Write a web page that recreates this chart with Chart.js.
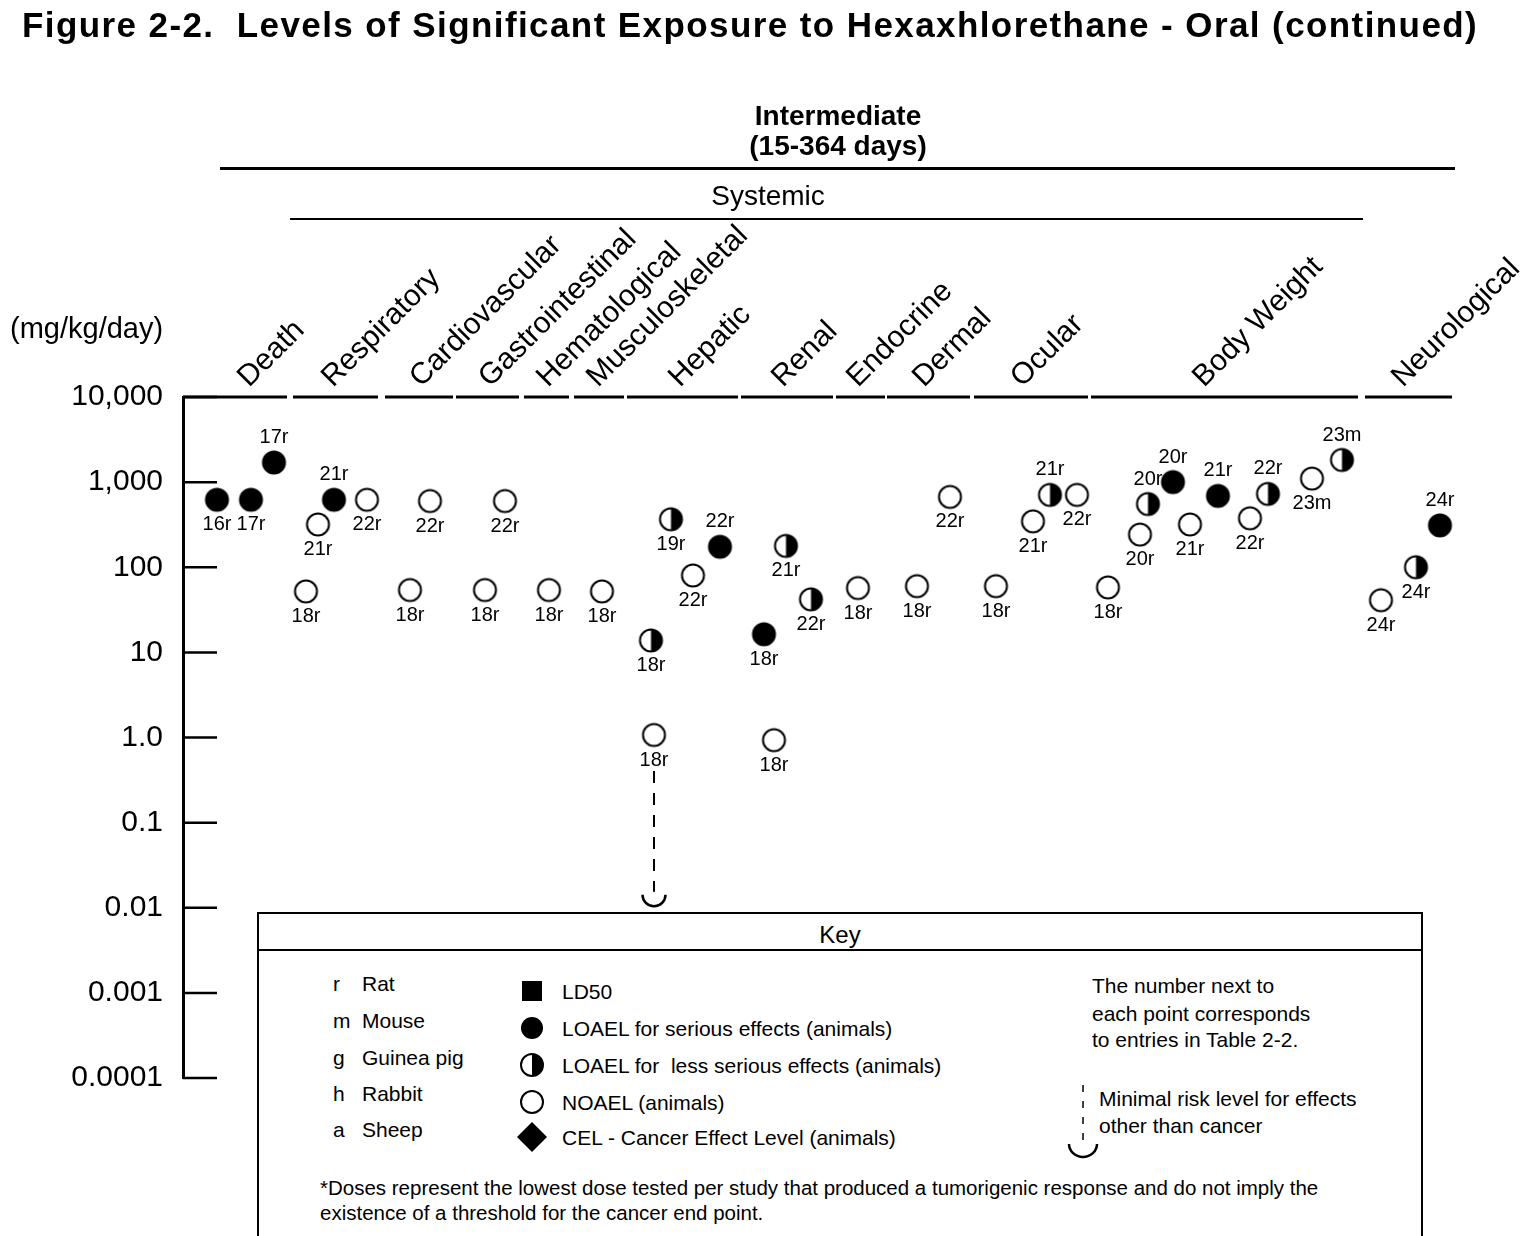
<!DOCTYPE html>
<html>
<head>
<meta charset="utf-8">
<title>Figure 2-2</title>
<script src="https://cdn.jsdelivr.net/npm/chart.js@4.4.1/dist/chart.umd.min.js"></script>
<style>
  body { margin: 0; background: #fff; }
  #page { position: relative; width: 1525px; height: 1236px; overflow: hidden;
          font-family: "Liberation Sans", Arial, Helvetica, sans-serif; color: #000; }
  #page canvas { position: absolute; left: 0; top: 0; }
  .t { position: absolute; white-space: nowrap; line-height: 1; transform: translateY(-50%); }
  .ctr { transform: translate(-50%, -50%); }
  .rule { position: absolute; background: #000; }
  #key { position: absolute; left: 257px; top: 912px; width: 1162px; height: 340px;
         border: 2px solid #000; background: #fff; }
  #key .t { font-size: 21px; }
  #key svg { position: absolute; left: 0; top: 0; }
</style>
</head>
<body>
<div id="page">
  <canvas id="chart" width="1525" height="1236"></canvas>

  <div class="t" id="title" style="left:22px;top:24px;font-size:35px;font-weight:bold">Figure 2-2.&nbsp; Levels of Significant Exposure to Hexaxhlorethane - Oral (continued)</div>
  <div class="t ctr" style="left:838px;top:116px;font-size:28px;font-weight:bold">Intermediate</div>
  <div class="t ctr" style="left:838px;top:146px;font-size:28px;font-weight:bold">(15-364 days)</div>
  <div class="rule" style="left:220px;top:167px;width:1235px;height:3px"></div>
  <div class="t ctr" style="left:768px;top:196px;font-size:28px">Systemic</div>
  <div class="rule" style="left:290px;top:218px;width:1073px;height:2px"></div>
  <div class="t" style="left:10px;top:328px;font-size:29px">(mg/kg/day)</div>

  <div id="key">
    <div class="t ctr" style="left:581px;top:21px;font-size:24px">Key</div>
    <div class="rule" style="left:0;top:35px;width:1162px;height:2px"></div>

    <div class="t" style="left:74px;top:69px">r</div>
    <div class="t" style="left:103px;top:69px">Rat</div>
    <div class="t" style="left:74px;top:106px">m</div>
    <div class="t" style="left:103px;top:106px">Mouse</div>
    <div class="t" style="left:74px;top:143px">g</div>
    <div class="t" style="left:103px;top:143px">Guinea pig</div>
    <div class="t" style="left:74px;top:179px">h</div>
    <div class="t" style="left:103px;top:179px">Rabbit</div>
    <div class="t" style="left:74px;top:215px">a</div>
    <div class="t" style="left:103px;top:215px">Sheep</div>

    <svg width="1162" height="340">
      <rect x="263" y="67" width="20" height="20" fill="#000"/>
      <circle cx="273" cy="114" r="11" fill="#000"/>
      <circle cx="273" cy="151" r="11" fill="#fff" stroke="#000" stroke-width="2"/>
      <path d="M273,140 A11,11 0 0 1 273,162 Z" fill="#000"/>
      <circle cx="273" cy="188" r="11" fill="#fff" stroke="#000" stroke-width="2"/>
      <path d="M273,208 L288,223 L273,238 L258,223 Z" fill="#000"/>
      <line x1="824" y1="171" x2="824" y2="230" stroke="#000" stroke-width="1.5" stroke-dasharray="7 9"/>
      <path d="M810,230 A14,13 0 0 0 838,230" fill="none" stroke="#000" stroke-width="2.5"/>
    </svg>

    <div class="t" style="left:303px;top:77px">LD50</div>
    <div class="t" style="left:303px;top:114px">LOAEL for serious effects (animals)</div>
    <div class="t" style="left:303px;top:151px">LOAEL for&nbsp; less serious effects (animals)</div>
    <div class="t" style="left:303px;top:188px">NOAEL (animals)</div>
    <div class="t" style="left:303px;top:223px">CEL - Cancer Effect Level (animals)</div>

    <div class="t" style="left:833px;top:71px">The number next to</div>
    <div class="t" style="left:833px;top:99px">each point corresponds</div>
    <div class="t" style="left:833px;top:125px">to entries in Table 2-2.</div>

    <div class="t" style="left:840px;top:184px">Minimal risk level for effects</div>
    <div class="t" style="left:840px;top:211px">other than cancer</div>

    <div class="t" style="left:61px;top:274px;font-size:20.5px">*Doses represent the lowest dose tested per study that produced a tumorigenic response and do not imply the</div>
    <div class="t" style="left:61px;top:299px;font-size:20.5px">existence of a threshold for the cancer end point.</div>
  </div>
</div>

<script>
const FONT = '"Liberation Sans", Arial, Helvetica, sans-serif';

// y axis (mg/kg/day), log scale
const yTicks = [0.0001, 0.001, 0.01, 0.1, 1, 10, 100, 1000, 10000];
const yTickLabels = ['0.0001', '0.001', '0.01', '0.1', '1.0', '10', '100', '1,000', '10,000'];

// endpoints along the top, in axis units (0 - 127)
const categories = ['Death', 'Respiratory', 'Cardiovascular', 'Gastrointestinal', 'Hematological',
  'Musculoskeletal', 'Hepatic', 'Renal', 'Endocrine', 'Dermal', 'Ocular', 'Body Weight', 'Neurological'];
const catStart   = [0, 11.0, 20.2, 27.3, 34.1, 39.1, 44.4, 55.8, 65.3, 70.4, 79.1, 90.8, 118.2];
const catEnd     = [10.4, 19.5, 27.0, 33.6, 38.6, 44.1, 55.5, 65.0, 70.2, 78.7, 90.5, 117.5, 126.9];
const catLabelAt = [6.6, 15.0, 23.8, 30.7, 36.5, 41.5, 49.7, 60.0, 67.5, 74.1, 83.9, 102.1, 122.0];

// one entry per point: study id + species, effect (S serious, L less serious, N NOAEL), dose, column
const pointIds = ['16r', '17r', '17r', '18r', '21r', '21r', '22r', '18r', '22r', '18r', '22r', '18r', '18r',
  '19r', '18r', '18r', '22r', '22r', '18r', '18r', '21r', '22r', '18r', '18r', '22r', '18r', '21r', '21r', '22r',
  '18r', '20r', '20r', '20r', '21r', '21r', '22r', '22r', '23m', '23m', '24r', '24r', '24r'];
const pointEffect = ['S', 'S', 'S', 'N', 'N', 'S', 'N', 'N', 'N', 'N', 'N', 'N', 'N',
  'L', 'L', 'N', 'N', 'S', 'S', 'N', 'L', 'L', 'N', 'N', 'N', 'N', 'N', 'L', 'N',
  'N', 'N', 'L', 'S', 'N', 'S', 'N', 'L', 'N', 'L', 'N', 'L', 'S'];
const pointDose = [620, 620, 1700, 52, 318, 620, 620, 54, 600, 54, 600, 54, 52,
  366, 13.8, 1.07, 80, 174, 16.3, 0.93, 178, 42, 57, 60, 670, 60, 346, 708, 708,
  58, 242, 553, 1000, 318, 689, 376, 727, 1100, 1820, 41, 100, 310];
const pointCol = [3.4, 6.8, 9.1, 12.3, 13.5, 15.1, 18.4, 22.7, 24.7, 30.2, 32.2, 36.6, 41.9,
  48.8, 46.8, 47.1, 51.0, 53.7, 58.1, 59.1, 60.3, 62.8, 67.5, 73.4, 76.7, 81.3, 85.0, 86.7, 89.4,
  92.5, 95.7, 96.5, 99.0, 100.7, 103.5, 106.7, 108.5, 112.9, 115.9, 119.8, 123.3, 125.7];
const labelAbove = [2, 5, 17, 27, 31, 32, 34, 36, 38, 41];

// minimal risk level, drawn under the hepatic NOAEL
const mrlDose = 0.01;
const mrlFrom = 15;

function dot(kind) {
  const r = 11, c = document.createElement('canvas');
  c.width = c.height = 2 * r + 5;
  const g = c.getContext('2d'), m = c.width / 2;
  g.beginPath(); g.arc(m, m, r, 0, 2 * Math.PI);
  g.fillStyle = kind === 'S' ? '#000' : '#fff'; g.fill();
  if (kind === 'L') {
    g.beginPath(); g.moveTo(m, m - r); g.arc(m, m, r, -Math.PI / 2, Math.PI / 2); g.closePath();
    g.fillStyle = '#000'; g.fill();
  }
  g.beginPath(); g.arc(m, m, r, 0, 2 * Math.PI);
  g.lineWidth = 2; g.strokeStyle = '#000'; g.stroke();
  return c;
}

const effectNames = { S: 'LOAEL serious', L: 'LOAEL less serious', N: 'NOAEL' };
const datasets = ['S', 'L', 'N'].map(k => ({
  label: effectNames[k],
  data: pointDose.map((d, i) => ({ x: pointCol[i], y: d, e: pointEffect[i] })).filter(p => p.e === k),
  pointStyle: dot(k),
  pointRadius: 12,
  showLine: false
}));

const decor = {
  id: 'decor',
  afterDatasetsDraw(chart) {
    const { ctx, chartArea: a, scales: { x, y } } = chart;
    ctx.save();
    ctx.strokeStyle = '#000';
    ctx.fillStyle = '#000';

    // broken top line, one piece per endpoint
    ctx.lineWidth = 3;
    categories.forEach((c, i) => {
      ctx.beginPath();
      ctx.moveTo(x.getPixelForValue(catStart[i]), a.top);
      ctx.lineTo(x.getPixelForValue(catEnd[i]), a.top);
      ctx.stroke();
    });

    // tick marks point into the plot
    ctx.lineWidth = 2.5;
    yTicks.forEach(v => {
      const py = y.getPixelForValue(v);
      ctx.beginPath(); ctx.moveTo(a.left, py); ctx.lineTo(a.left + 34, py); ctx.stroke();
    });

    // slanted endpoint names
    ctx.font = '30px ' + FONT;
    ctx.textAlign = 'left';
    ctx.textBaseline = 'alphabetic';
    categories.forEach((c, i) => {
      ctx.save();
      ctx.translate(x.getPixelForValue(catLabelAt[i]), a.top - 9);
      ctx.rotate(-Math.PI / 4);
      ctx.fillText(c, 0, 0);
      ctx.restore();
    });

    // study numbers
    ctx.font = '20px ' + FONT;
    ctx.textAlign = 'center';
    ctx.textBaseline = 'middle';
    pointIds.forEach((id, i) => {
      const px = x.getPixelForValue(pointCol[i]);
      const py = y.getPixelForValue(pointDose[i]);
      ctx.fillText(id, px, labelAbove.includes(i) ? py - 25 : py + 25);
    });

    // MRL arrow
    const mx = x.getPixelForValue(pointCol[mrlFrom]);
    const my = y.getPixelForValue(mrlDose);
    ctx.lineWidth = 2;
    ctx.setLineDash([12, 10]);
    ctx.beginPath();
    ctx.moveTo(mx, y.getPixelForValue(pointDose[mrlFrom]) + 36);
    ctx.lineTo(mx, my - 16);
    ctx.stroke();
    ctx.setLineDash([]);
    ctx.lineWidth = 2.5;
    ctx.beginPath();
    ctx.arc(mx, my - 13, 11.5, 0, Math.PI);
    ctx.stroke();

    ctx.restore();
  }
};

Chart.defaults.font.family = FONT;
Chart.defaults.color = '#000';

new Chart(document.getElementById('chart'), {
  type: 'scatter',
  data: { datasets },
  options: {
    responsive: false,
    animation: false,
    layout: { padding: { top: 397, right: 72, bottom: 158, left: 0 } },
    plugins: { legend: { display: false }, tooltip: { enabled: false } },
    scales: {
      x: { type: 'linear', min: 0, max: 127, display: false },
      y: {
        type: 'logarithmic',
        min: 0.0001,
        max: 10000,
        afterFit: s => { s.width = 183; },
        afterBuildTicks: s => { s.ticks = yTicks.map(v => ({ value: v })); },
        ticks: {
          autoSkip: false,
          padding: 20,
          font: { size: 30 },
          color: '#000',
          callback: (v, i) => yTickLabels[i]
        },
        grid: { display: false, drawTicks: false },
        border: { display: true, color: '#000', width: 3 }
      }
    }
  },
  plugins: [decor]
});

// stretch the title to the width it has in the figure
const tt = document.getElementById('title');
const extra = 1456 - tt.getBoundingClientRect().width;
tt.style.letterSpacing = (extra / tt.textContent.length).toFixed(2) + 'px';
</script>
</body>
</html>
